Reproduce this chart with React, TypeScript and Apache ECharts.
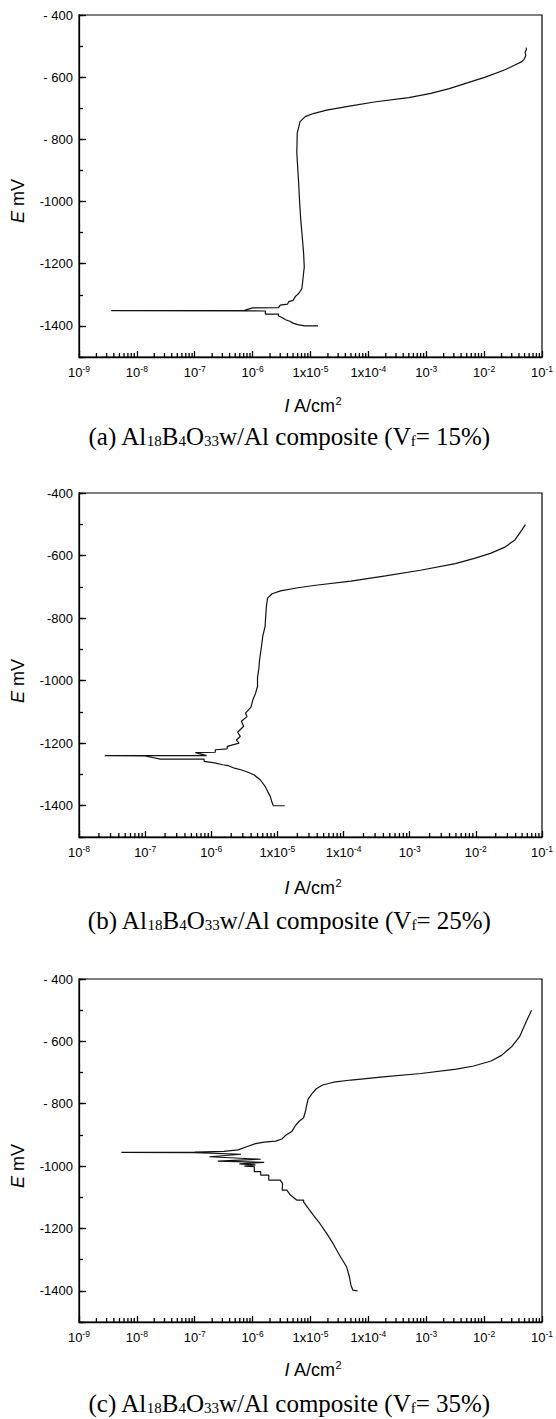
import React, { useEffect, useRef } from "react";
import * as echarts from "echarts";

// Current density I (A/cm²) and potential E (mV), listed in scan order.
// (a) Vf = 15%
const currentA = [
  1.35e-5, 7.9e-6, 6.0e-6, 5.0e-6, 4.4e-6, 3.7e-6, 3.3e-6, 2.8e-6, 2.8e-6, 1.66e-6,
  1.66e-6, 3.6e-9, 7.2e-7, 1.0e-6, 2.8e-6, 3.0e-6, 4.0e-6, 4.2e-6, 5.0e-6, 5.5e-6,
  6.3e-6, 7.1e-6, 7.4e-6, 7.8e-6, 7.6e-6, 7.1e-6, 6.8e-6, 6.5e-6, 6.2e-6, 5.8e-6,
  5.9e-6, 6.6e-6, 8.1e-6, 1.12e-5, 1.9e-5, 4.7e-5, 1.35e-4, 5.0e-4, 1.2e-3, 2.5e-3,
  4.8e-3, 1.05e-2, 2.24e-2, 3.4e-2, 4.5e-2, 5.0e-2, 5.25e-2, 5.1e-2, 5.4e-2, 5.3e-2,
];
const potentialA = [
  -1400, -1400, -1396, -1391, -1385, -1380, -1374, -1368, -1362, -1362,
  -1352, -1351, -1350, -1342, -1341, -1333, -1330, -1322, -1318, -1305,
  -1295, -1280, -1250, -1210, -1166, -1100, -1060, -1005, -931, -844,
  -780, -743, -727, -717, -706, -693, -679, -666, -652, -637,
  -620, -600, -577, -561, -550, -540, -530, -520, -510, -505,
];

// (b) Vf = 25%
const currentB = [
  1.29e-5, 8.7e-6, 8.3e-6, 7.8e-6, 7.1e-6, 6.5e-6, 5.5e-6, 4.4e-6, 3.5e-6, 2.8e-6,
  2.24e-6, 1.82e-6, 1.48e-6, 1.12e-6, 7.8e-7, 7.8e-7, 1.7e-7, 1.0e-7, 2.45e-8, 8.5e-7,
  5.75e-7, 1.15e-6, 1.15e-6, 1.74e-6, 1.74e-6, 2.63e-6, 2.4e-6, 2.75e-6, 2.5e-6, 3.09e-6,
  2.85e-6, 3.47e-6, 3.3e-6, 3.98e-6, 4.27e-6, 4.68e-6, 5.0e-6, 5.0e-6, 5.25e-6, 5.37e-6,
  5.75e-6, 6.0e-6, 6.5e-6, 6.8e-6, 7.1e-6, 8.3e-6, 1.12e-5, 2.04e-5, 3.8e-5, 1.29e-4,
  4.3e-4, 1.45e-3, 4.9e-3, 9.5e-3, 1.66e-2, 2.7e-2, 3.9e-2, 5.0e-2, 5.6e-2,
];
const potentialB = [
  -1400, -1400, -1390, -1370, -1354, -1338, -1317, -1301, -1292, -1285,
  -1280, -1272, -1269, -1263, -1258, -1251, -1251, -1241, -1240, -1240,
  -1230, -1229, -1221, -1218, -1210, -1200, -1190, -1178, -1165, -1146,
  -1130, -1115, -1104, -1085, -1060, -1040, -1018, -990, -960, -933,
  -890, -858, -827, -763, -736, -722, -713, -703, -695, -682,
  -665, -647, -626, -609, -593, -574, -550, -517, -501,
];

// (c) Vf = 35%
const currentC = [
  6.5e-5, 5.4e-5, 5.0e-5, 4.7e-5, 4.2e-5, 3.16e-5, 2.45e-5, 1.9e-5, 1.45e-5, 1.12e-5,
  8.7e-6, 7.6e-6, 7.6e-6, 5.75e-6, 4.5e-6, 3.9e-6, 3.24e-6, 3.3e-6, 3.0e-6, 1.9e-6,
  1.9e-6, 1.38e-6, 1.38e-6, 1.07e-6, 1.07e-6, 7.2e-7, 1.12e-6, 5.9e-7, 1.58e-6, 2.5e-7,
  1.38e-6, 1.8e-7, 6.3e-7, 1.0e-7, 5.4e-9, 1.0e-7, 3.2e-7, 5.6e-7, 7.9e-7, 1.12e-6,
  1.58e-6, 2.5e-6, 3.2e-6, 3.8e-6, 4.8e-6, 5.5e-6, 6.3e-6, 7.6e-6, 8.3e-6, 8.7e-6,
  9.1e-6, 1.07e-5, 1.26e-5, 1.62e-5, 2.5e-5, 5.0e-5, 2.0e-4, 8.1e-4, 3.3e-3, 6.6e-3,
  1.32e-2, 2.0e-2, 3.0e-2, 4.1e-2, 5.4e-2, 6.6e-2,
];
const potentialC = [
  -1400, -1398, -1382, -1355, -1323, -1285, -1248, -1216, -1184, -1157,
  -1130, -1115, -1109, -1109, -1093, -1077, -1077, -1056, -1045, -1045,
  -1029, -1029, -1018, -1018, -1002, -1000, -996, -993, -988, -984,
  -978, -970, -962, -957, -956, -955, -953, -948, -938, -928,
  -923, -920, -913, -900, -888, -870, -857, -845, -820, -800,
  -785, -767, -752, -740, -731, -724, -713, -703, -689, -679,
  -663, -645, -617, -585, -535, -500,
];

const panelLetters = ["(a)", "(b)", "(c)"];
const fiberFractions = ["15%", "25%", "35%"];
const xMinExponents = [-9, -8, -9];
const xMaxExponent = -1;
const minorTickMultipliers = [2, 3, 4, 5, 6, 7, 8, 9];
const yMinValue = -1500;
const yMaxValue = -400;
const spacedMinus = [true, false, true];

const SANS = "'Liberation Sans', Arial, sans-serif";
const SERIF = "'Liberation Serif', 'Times New Roman', serif";
const INK = "#000";

const layout = [
  { top: 15, height: 342, xTitleY: 406, yTitleY: 201, captionY: 436 },
  { top: 493, height: 344, xTitleY: 888, yTitleY: 681, captionY: 920 },
  { top: 979, height: 343, xTitleY: 1370, yTitleY: 1166, captionY: 1403 },
];

const xLabel = (v: number) => {
  const e = Math.round(Math.log10(v));
  const mant = e === -5 || e === -4 ? "1x10" : "10";
  return `${mant}{sup|${e}}`;
};

function minorTickValues(minExp: number) {
  const out: number[][] = [];
  for (let e = minExp; e < xMaxExponent; e++) {
    minorTickMultipliers.forEach((m) => out.push([m * Math.pow(10, e)]));
  }
  return out;
}

function buildOption() {
  const currents = [currentA, currentB, currentC];
  const potentials = [potentialA, potentialB, potentialC];
  const grid: any[] = [];
  const xAxis: any[] = [];
  const yAxis: any[] = [];
  const series: any[] = [];
  const graphic: any[] = [];
  layout.forEach((L, k) => {
    grid.push({
      left: 79,
      top: L.top,
      width: 470,
      height: L.height,
      show: true,
      borderColor: INK,
      borderWidth: 1.2,
      backgroundColor: "transparent",
    });
    xAxis.push({
      type: "log",
      logBase: 10,
      gridIndex: k,
      min: Math.pow(10, xMinExponents[k]),
      max: Math.pow(10, xMaxExponent),
      splitNumber: 10,
      position: "bottom",
      z: 5,
      axisLine: { show: true, lineStyle: { color: INK, width: 1.3 } },
      axisTick: { show: true, inside: true, length: 6, lineStyle: { color: INK, width: 1.3 } },
      splitLine: { show: false },
      axisLabel: {
        margin: 7,
        color: INK,
        fontSize: 13,
        fontFamily: SANS,
        formatter: xLabel,
        rich: { sup: { fontSize: 8.5, fontFamily: SANS, color: INK, padding: [0, 0, 7, 0] } },
      },
    });
    // data axis (minor ticks every 100 mV)
    yAxis.push({
      type: "value",
      gridIndex: k,
      position: "left",
      min: yMinValue,
      max: yMaxValue,
      interval: 100,
      z: 5,
      axisLine: { show: true, lineStyle: { color: INK, width: 1.3 } },
      axisTick: { show: true, inside: true, length: 4, lineStyle: { color: INK, width: 1.3 } },
      axisLabel: { show: false },
      splitLine: { show: false },
    });
    // labelled axis (major ticks every 200 mV)
    yAxis.push({
      type: "value",
      gridIndex: k,
      position: "left",
      inverse: true,
      min: -yMaxValue,
      max: -yMinValue,
      interval: 200,
      z: 5,
      axisLine: { show: false },
      axisTick: { show: true, inside: true, length: 7, lineStyle: { color: INK, width: 1.3 } },
      axisLabel: {
        margin: 6,
        color: INK,
        fontSize: 13,
        fontFamily: SANS,
        formatter: (v: number) =>
          v >= -yMinValue ? "" : (spacedMinus[k] && v < 1000 ? "- " : "-") + v,
      },
      splitLine: { show: false },
    });
    series.push({
      type: "line",
      xAxisIndex: k,
      yAxisIndex: 2 * k,
      data: currents[k].map((c, i) => [c, potentials[k][i]]),
      showSymbol: false,
      symbol: "none",
      lineStyle: { color: "#111", width: 1.2 },
      silent: true,
    });
    // logarithmic minor ticks (2..9 within each decade) on the bottom axis
    series.push({
      type: "custom",
      coordinateSystem: "cartesian2d",
      xAxisIndex: k,
      yAxisIndex: 2 * k,
      silent: true,
      clip: false,
      z: 6,
      data: minorTickValues(xMinExponents[k]),
      renderItem: (_params: any, api: any) => {
        const p = api.coord([api.value(0), yMinValue]);
        return {
          type: "line",
          shape: { x1: p[0], y1: p[1], x2: p[0], y2: p[1] - 4 },
          style: { stroke: INK, lineWidth: 1.3 },
        };
      },
    });
    graphic.push({
      type: "text",
      x: 18,
      y: L.yTitleY,
      rotation: Math.PI / 2,
      style: {
        text: "{i|E} mV",
        fontSize: 18,
        fontFamily: SANS,
        fill: INK,
        align: "center",
        verticalAlign: "middle",
        rich: { i: { fontSize: 18, fontFamily: SANS, fontStyle: "italic", fill: INK } },
      },
    });
    graphic.push({
      type: "text",
      x: 313,
      y: L.xTitleY,
      style: {
        text: "{i|I} A/cm{sup|2}",
        fontSize: 18,
        fontFamily: SANS,
        fill: INK,
        align: "center",
        verticalAlign: "middle",
        rich: {
          i: { fontSize: 18, fontFamily: SANS, fontStyle: "italic", fill: INK },
          sup: { fontSize: 11, fontFamily: SANS, fill: INK, padding: [0, 0, 10, 0] },
        },
      },
    });
    graphic.push({
      type: "text",
      x: 289,
      y: L.captionY,
      style: {
        text: `${panelLetters[k]} Al{sub|18}B{sub|4}O{sub|33}w/Al composite (V{sub|f}= ${fiberFractions[k]})`,
        fontSize: 25,
        fontFamily: SERIF,
        fill: INK,
        align: "center",
        verticalAlign: "middle",
        rich: { sub: { fontSize: 15, fontFamily: SERIF, fill: INK, padding: [10, 0, 0, 0] } },
      },
    });
  });
  return {
    animation: false,
    backgroundColor: "#fff",
    grid,
    xAxis,
    yAxis,
    series,
    graphic,
  };
}

export default function App() {
  const ref = useRef<HTMLDivElement>(null);
  useEffect(() => {
    if (!ref.current) return;
    const chart = echarts.init(ref.current, undefined, { renderer: "svg" });
    chart.setOption(buildOption() as any);
    return () => chart.dispose();
  }, []);
  return (
    <div
      ref={ref}
      style={{ position: "absolute", left: 0, top: 0, width: 556, height: 1419, background: "#fff" }}
    />
  );
}
